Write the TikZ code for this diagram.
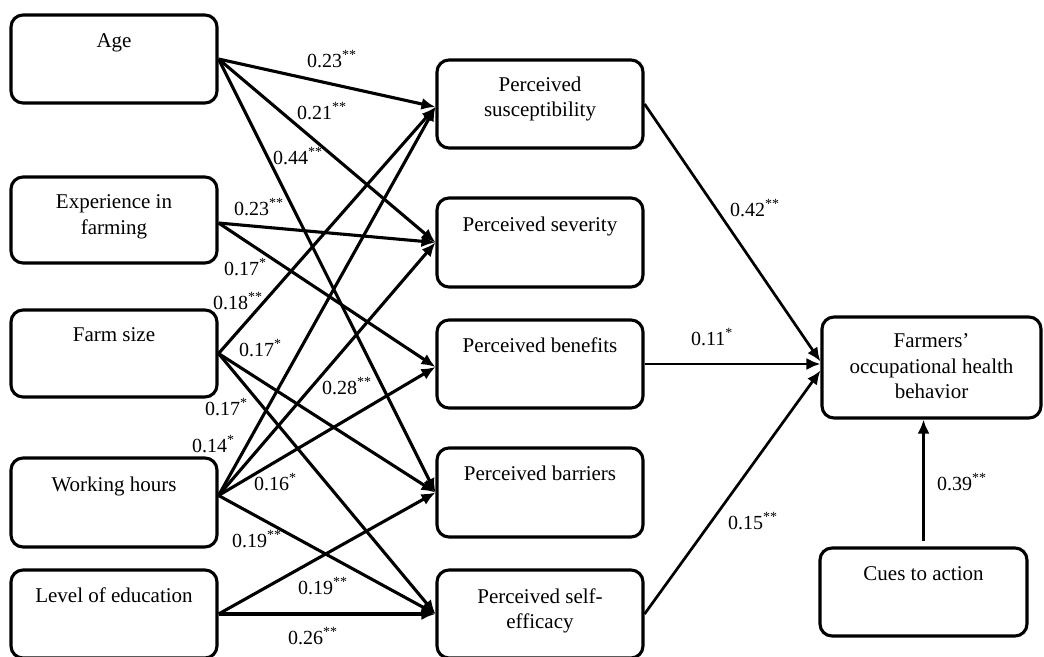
\documentclass[tikz,border=0pt]{standalone}
\usepackage{fontspec}
\setmainfont{Liberation Serif}
\usetikzlibrary{arrows.meta}
\tikzset{
  box/.style={draw, line width=3.1pt, rounded corners=12pt, minimum width=206pt, minimum height=88pt, inner sep=0pt},
  txt/.style={anchor=north, inner sep=0pt, align=center, font=\fontsize{21}{25.5}\selectfont},
  lab/.style={anchor=base west, inner sep=0pt, font=\fontsize{20}{24}\selectfont},
  arr/.style={line width=3.1pt, -{Latex[length=14pt,width=12pt]}},
  arrR/.style={line width=2.7pt, -{Latex[length=14pt,width=12pt]}}
}
\begin{document}
\begin{tikzpicture}[x=1pt,y=-1pt]
\useasboundingbox (0,0) rectangle (1044,656);
\clip (0,0) rectangle (1044,656);
% left column
\node[box] (age) at (114,59) {};
\node[box, minimum height=86pt] (exp) at (114,220) {};
\node[box, minimum height=87pt] (farm) at (114,353.5) {};
\node[box, minimum height=89pt] (work) at (114,502.5) {};
\node[box] (edu) at (114,614) {};
% middle column
\node[box] (susc) at (540,104) {};
\node[box, minimum height=89pt] (sev) at (540,242.5) {};
\node[box] (ben) at (540,364) {};
\node[box, minimum height=89pt] (bar) at (540,492.5) {};
\node[box] (self) at (540,614) {};
% right
\node[box, minimum width=219pt, minimum height=101pt] (fohb) at (931.5,367.5) {};
\node[box, minimum width=207pt] (cues) at (923.5,592) {};
% texts
\node[txt] (agetxt) at ([yshift=-20pt]age.north) {Age};
\node[txt] (exptxt) at ([yshift=-19pt]exp.north) {Experience in\\farming};
\node[txt] (farmtxt) at ([yshift=-19pt]farm.north) {Farm size};
\node[txt] (worktxt) at ([yshift=-20pt]work.north) {Working hours};
\node[txt] (edutxt) at ([yshift=-19pt]edu.north) {Level of education};
\node[txt] (susctxt) at ([yshift=-18pt]susc.north) {Perceived\\susceptibility};
\node[txt] (sevtxt) at ([yshift=-20pt]sev.north) {Perceived severity};
\node[txt] (bentxt) at ([yshift=-19pt]ben.north) {Perceived benefits};
\node[txt] (bartxt) at ([yshift=-19pt]bar.north) {Perceived barriers};
\node[txt] (selftxt) at ([yshift=-20pt]self.north) {Perceived self-\\efficacy};
\node[txt] (fohbtxt) at ([yshift=-18pt]fohb.north) {Farmers’\\occupational health\\behavior};
\node[txt] (cuestxt) at ([yshift=-20pt]cues.north) {Cues to action};
% left arrows
\draw[arr] (age.east) -- ([yshift=-3pt]susc.west);
\draw[arr] (age.east) -- (sev.west);
\draw[arr] (age.east) -- (bar.west);
\draw[arr] ([yshift=-3pt]exp.east) -- (sev.west);
\draw[arr] ([yshift=-3pt]exp.east) -- ([yshift=-3pt]ben.west);
\draw[arr] (farm.east) -- ([yshift=-3pt]susc.west);
\draw[arr] (farm.east) -- (bar.west);
\draw[arr] (farm.east) -- (self.west);
\draw[arr] ([yshift=7pt]work.east) -- ([yshift=-3pt]susc.west);
\draw[arr] ([yshift=7pt]work.east) -- (sev.west);
\draw[arr] ([yshift=7pt]work.east) -- ([yshift=-3pt]ben.west);
\draw[arr] ([yshift=7pt]work.east) -- (self.west);
\draw[arr] (edu.east) -- (bar.west);
\draw[arr] (edu.east) -- (self.west);
% right arrows
\draw[arrR] (susc.east) -- ([yshift=6pt]fohb.west);
\draw[arrR] (ben.east) -- (ben.east -| fohb.west);
\draw[arrR] (self.east) -- ([yshift=-3pt]fohb.west);
\draw[arrR] ([yshift=5pt]cues.north) -- (cues.north |- fohb.south);
% labels
\node[lab] (l1) at (307,67) {0.23\textsuperscript{**}};
\node[lab] (l2) at (297,119) {0.21\textsuperscript{**}};
\node[lab] (l3) at (273,164) {0.44\textsuperscript{**}};
\node[lab] (l4) at (234,215) {0.23\textsuperscript{**}};
\node[lab] (l5) at (224,275) {0.17\textsuperscript{*}};
\node[lab] (l6) at (213,309) {0.18\textsuperscript{**}};
\node[lab] (l7) at (239,356) {0.17\textsuperscript{*}};
\node[lab] (l8) at (322,394) {0.28\textsuperscript{**}};
\node[lab] (l9) at (205,415) {0.17\textsuperscript{*}};
\node[lab] (l10) at (192,452) {0.14\textsuperscript{*}};
\node[lab] (l11) at (254,490) {0.16\textsuperscript{*}};
\node[lab] (l12) at (232,547) {0.19\textsuperscript{**}};
\node[lab] (l13) at (298,594) {0.19\textsuperscript{**}};
\node[lab] (l14) at (288,644) {0.26\textsuperscript{**}};
\node[lab] (l15) at (730,216) {0.42\textsuperscript{**}};
\node[lab] (l16) at (691,345) {0.11\textsuperscript{*}};
\node[lab] (l17) at (728,529) {0.15\textsuperscript{**}};
\node[lab] (l18) at (937,490) {0.39\textsuperscript{**}};
\end{tikzpicture}
\end{document}
